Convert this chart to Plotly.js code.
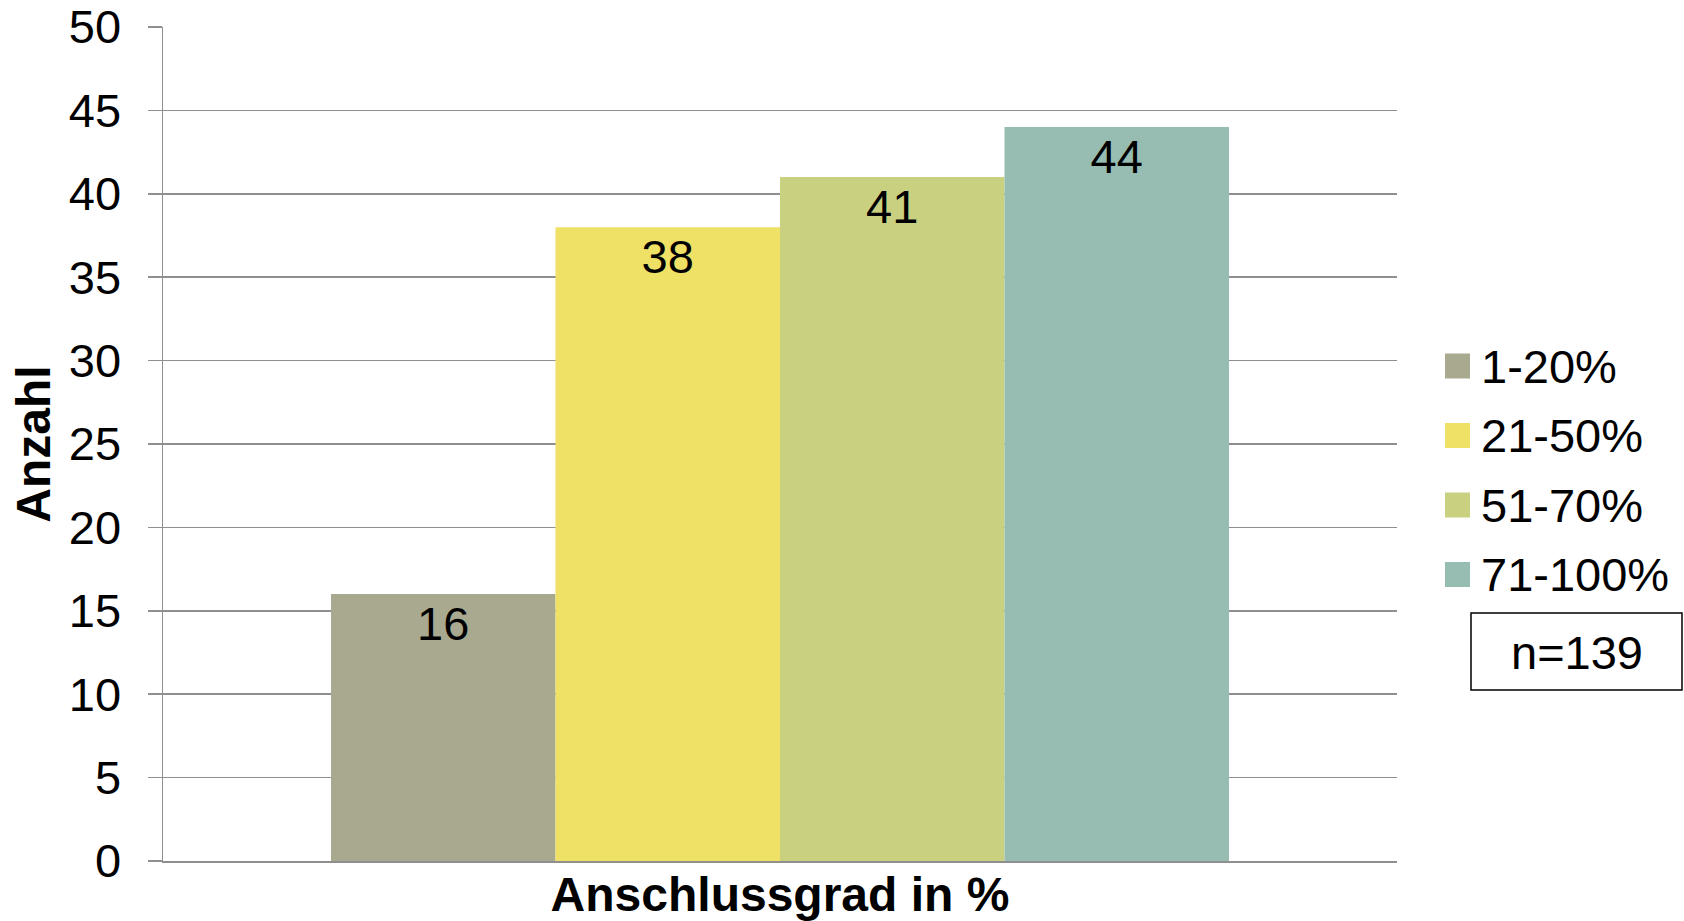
<!DOCTYPE html>
<html>
<head>
<meta charset="utf-8">
<script src="https://cdn.plot.ly/plotly-3.0.1.min.js"></script>
<style>html,body{margin:0;padding:0;background:#fff;}#chart{width:1684px;height:921px;}</style>
</head>
<body>
<div id="chart"></div>
<script>
// ---- data ----
var categories = ["1-20%", "21-50%", "51-70%", "71-100%"];
var counts = [16, 38, 41, 44];
var colors = ["#A9A98F", "#EFE066", "#C9D180", "#97BDB3"];
var sampleNote = "n=139";
var yTitle = "Anzahl";
var xTitle = "Anschlussgrad in %";

// ---- layout geometry (pixels) ----
var W = 1684, H = 921;
var mL = 163, mR = 287, mT = 27, mB = 60;
var plotW = W - mL - mR, plotH = H - mT - mB;
function px2x(px) { return (px - mL) / plotW; }
function py2y(py) { return (H - mB - py) / plotH; }

var FONT = "Liberation Sans, Arial, sans-serif";
var FS = 47;
var gridCol = "#8f8f8f";

var traces = categories.map(function (c, i) {
  return {
    type: "bar",
    name: c,
    x: [0],
    y: [counts[i]],
    marker: { color: colors[i], line: { width: 0 } },
    text: [String(counts[i])],
    textposition: "inside",
    insidetextanchor: "end",
    constraintext: "none",
    textfont: { family: FONT, size: FS, color: "#000" },
    showlegend: false,
    hoverinfo: "name+y"
  };
});

var shapes = [];
var annotations = [];
var legTop = 366, legStep = 69.5;
categories.forEach(function (c, i) {
  var cy = legTop + i * legStep;
  shapes.push({
    type: "rect", xref: "paper", yref: "paper",
    x0: px2x(1445), x1: px2x(1470), y0: py2y(cy + 12.5), y1: py2y(cy - 12.5),
    fillcolor: colors[i], line: { width: 0 }
  });
  annotations.push({
    xref: "paper", yref: "paper", x: px2x(1479), y: py2y(cy),
    xanchor: "left", yanchor: "middle", showarrow: false,
    text: c, font: { family: FONT, size: FS, color: "#000" }
  });
});
shapes.push({
  type: "rect", xref: "paper", yref: "paper",
  x0: px2x(1471), x1: px2x(1682), y0: py2y(690), y1: py2y(613),
  fillcolor: "rgba(0,0,0,0)", line: { color: "#000", width: 1.5 }
});
annotations.push({
  xref: "paper", yref: "paper", x: px2x(1577), y: py2y(652),
  xanchor: "center", yanchor: "middle", showarrow: false,
  text: sampleNote, font: { family: FONT, size: FS, color: "#000" }
});

var layout = {
  width: W, height: H,
  margin: { l: mL, r: mR, t: mT, b: mB, pad: 0 },
  paper_bgcolor: "#fff", plot_bgcolor: "#fff",
  barmode: "group", bargap: 0.2723, bargroupgap: 0,
  showlegend: false,
  font: { family: FONT, color: "#000", size: FS },
  xaxis: {
    range: [-0.5, 0.5], showticklabels: false, ticks: "",
    showgrid: false, zeroline: false,
    showline: true, linecolor: gridCol, linewidth: 1.5,
    title: { text: xTitle, font: { family: FONT, size: 48, color: "#000", weight: "bold" }, standoff: 17 },
    automargin: false
  },
  yaxis: {
    range: [0, 50], dtick: 5, tick0: 0,
    showgrid: true, gridcolor: gridCol, gridwidth: 1.5,
    zeroline: false,
    showline: true, linecolor: gridCol, linewidth: 1.5,
    ticks: "outside", ticklen: 14, tickcolor: gridCol, tickwidth: 1.5,
    ticklabelstandoff: 17,
    tickfont: { family: FONT, size: FS, color: "#000" },
    title: { text: yTitle, font: { family: FONT, size: 48, color: "#000", weight: "bold" }, standoff: 3 },
    automargin: false
  },
  shapes: shapes,
  annotations: annotations
};

Plotly.newPlot("chart", traces, layout, { displayModeBar: false, staticPlot: true });
</script>
</body>
</html>
